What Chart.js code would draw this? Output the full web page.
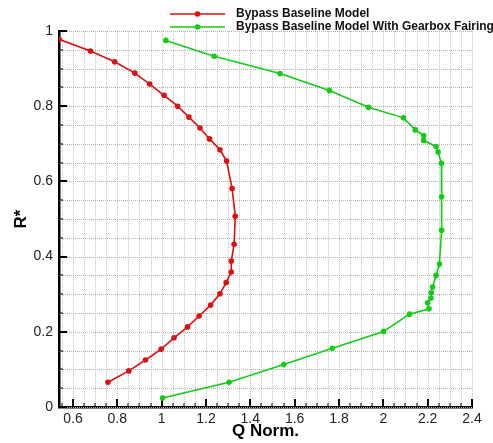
<!DOCTYPE html>
<html>
<head>
<meta charset="utf-8">
<script src="https://cdn.jsdelivr.net/npm/chart.js@4.4.1/dist/chart.umd.min.js"></script>
<style>
  html, body { margin: 0; padding: 0; background: #fff; }
  #wrap { width: 493px; height: 443px; }
</style>
</head>
<body>
<div id="wrap"><canvas id="myChart"></canvas></div>
<script>
const seriesNames = ['Bypass Baseline Model', 'Bypass Baseline Model With Gearbox Fairing'];
const seriesColors = ['#dd0f0f', '#14cc14'];

// Bypass Baseline Model
const baselineQ = [0.537, 0.679, 0.788, 0.879, 0.946, 1.011, 1.072, 1.123, 1.173, 1.216,
                   1.263, 1.293, 1.318, 1.332, 1.327, 1.314, 1.314, 1.291, 1.263, 1.221,
                   1.169, 1.117, 1.056, 0.998, 0.927, 0.852, 0.758];
const baselineR = [0.978, 0.947, 0.918, 0.888, 0.859, 0.829, 0.800, 0.771, 0.742, 0.713,
                   0.684, 0.654, 0.581, 0.507, 0.433, 0.388, 0.359, 0.331, 0.301, 0.271,
                   0.242, 0.213, 0.184, 0.154, 0.125, 0.096, 0.066];

// With Gearbox Fairing
const fairingQ = [1.019, 1.237, 1.534, 1.757, 1.933, 2.091, 2.144, 2.182, 2.182, 2.238,
                  2.247, 2.262, 2.263, 2.263, 2.253, 2.238, 2.222, 2.216, 2.215, 2.200,
                  2.206, 2.118, 2.001, 1.770, 1.551, 1.304, 1.004];
const fairingR = [0.975, 0.933, 0.887, 0.842, 0.797, 0.769, 0.737, 0.722, 0.709, 0.693,
                  0.678, 0.648, 0.559, 0.470, 0.380, 0.350, 0.319, 0.304, 0.290, 0.277,
                  0.261, 0.247, 0.201, 0.156, 0.113, 0.066, 0.024];

const xTickLabels = [0.6, 0.8, 1, 1.2, 1.4, 1.6, 1.8, 2, 2.2, 2.4];
const yTickLabels = [0, 0.2, 0.4, 0.6, 0.8, 1];
const gridStep = 0.05;

Chart.defaults.font.family = '"Liberation Sans", Arial, sans-serif';
Chart.defaults.color = '#222';

function toPoints(xs, ys) {
  return xs.map((x, i) => ({ x: x, y: ys[i] }));
}
function isLabel(list, v) {
  return list.some(t => Math.abs(t - v) < 1e-6);
}
function gridTicks(scale) {
  const ticks = [];
  const k0 = Math.ceil(scale.min / gridStep - 1e-6);
  const k1 = Math.floor(scale.max / gridStep + 1e-6);
  for (let k = k0; k <= k1; k++) {
    ticks.push({ value: Math.round(k * gridStep * 100) / 100 });
  }
  scale.ticks = ticks;
}

// dotted grid (drawn as single pixels) plus inward tick marks
const gridAndTicks = {
  id: 'gridAndTicks',
  beforeDatasetsDraw(chart) {
    const c = chart.ctx;
    const xs = chart.scales.x, ys = chart.scales.y;
    const area = chart.chartArea;
    const top = Math.round(area.top), bottom = Math.round(area.bottom);
    const left = Math.round(area.left), right = Math.round(area.right);
    c.save();
    c.fillStyle = '#c2c2c2';
    xs.ticks.forEach(t => {
      const px = Math.round(xs.getPixelForValue(t.value));
      for (let y = top; y < bottom; y += 2) c.fillRect(px, y, 1, 1);
    });
    c.fillStyle = '#b2b2b2';
    ys.ticks.forEach(t => {
      const py = Math.round(ys.getPixelForValue(t.value));
      for (let x = left; x < right; x += 2) c.fillRect(x, py, 1, 1);
    });
    c.strokeStyle = '#000';
    xs.ticks.forEach(t => {
      const major = isLabel(xTickLabels, t.value);
      const px = Math.round(xs.getPixelForValue(t.value));
      c.lineWidth = major ? 2 : 1;
      c.beginPath();
      c.moveTo(px, area.bottom);
      c.lineTo(px, area.bottom - (major ? 8 : 4));
      c.stroke();
    });
    ys.ticks.forEach(t => {
      const major = isLabel(yTickLabels, t.value);
      const py = Math.round(ys.getPixelForValue(t.value));
      c.lineWidth = major ? 2 : 1;
      c.beginPath();
      c.moveTo(area.left, py);
      c.lineTo(area.left + (major ? 8 : 4), py);
      c.stroke();
    });
    c.restore();
  }
};

// legend: line with marker, then bold text
const lineLegend = {
  id: 'lineLegend',
  afterDraw(chart) {
    const c = chart.ctx;
    c.save();
    chart.data.datasets.forEach((ds, i) => {
      const y = 14 + i * 13;
      c.strokeStyle = ds.borderColor;
      c.lineWidth = 1.5;
      c.beginPath();
      c.moveTo(170, y);
      c.lineTo(225, y);
      c.stroke();
      c.fillStyle = ds.borderColor;
      c.beginPath();
      c.arc(197.5, y, 2.8, 0, Math.PI * 2);
      c.fill();
      c.fillStyle = '#111';
      c.font = 'bold 12px "Liberation Sans", Arial, sans-serif';
      c.textBaseline = 'middle';
      c.fillText(ds.label, 236, y);
    });
    c.restore();
  }
};

const ctx = document.getElementById('myChart');
const chart = new Chart(ctx, {
  type: 'line',
  data: {
    datasets: [
      {
        label: seriesNames[0],
        data: toPoints(baselineQ, baselineR),
        borderColor: seriesColors[0],
        backgroundColor: seriesColors[0],
        borderWidth: 1.6,
        pointRadius: 2.8,
        pointBorderWidth: 0,
        tension: 0
      },
      {
        label: seriesNames[1],
        data: toPoints(fairingQ, fairingR),
        borderColor: seriesColors[1],
        backgroundColor: seriesColors[1],
        borderWidth: 1.6,
        pointRadius: 2.8,
        pointBorderWidth: 0,
        tension: 0
      }
    ]
  },
  options: {
    responsive: true,
    maintainAspectRatio: false,
    animation: false,
    events: [],
    layout: { padding: { top: 31, right: 21, left: 0, bottom: 0 } },
    plugins: {
      legend: { display: false },
      tooltip: { enabled: false }
    },
    scales: {
      x: {
        type: 'linear',
        min: 0.537,
        max: 2.4,
        afterBuildTicks: gridTicks,
        afterFit: s => { s.height = 36; },
        grid: { display: false, drawTicks: false },
        border: { display: true, color: '#000', width: 2.5 },
        ticks: {
          autoSkip: false,
          maxRotation: 0,
          padding: 4,
          font: { size: 14 },
          callback: v => isLabel(xTickLabels, v) ? String(+v.toFixed(1)) : ''
        },
        title: {
          display: true,
          text: 'Q Norm.',
          color: '#000',
          font: { size: 17, weight: 'bold' },
          padding: { top: 0, bottom: 1 }
        }
      },
      y: {
        type: 'linear',
        min: 0,
        max: 1,
        afterBuildTicks: gridTicks,
        afterFit: s => { s.width = 59; },
        grid: { display: false, drawTicks: false },
        border: { display: true, color: '#000', width: 2.5 },
        ticks: {
          autoSkip: false,
          padding: 6,
          font: { size: 14 },
          callback: v => isLabel(yTickLabels, v) ? String(+v.toFixed(1)) : ''
        },
        title: {
          display: true,
          text: 'R*',
          color: '#000',
          font: { size: 17, weight: 'bold' },
          padding: { top: 11, bottom: 0 }
        }
      }
    }
  },
  plugins: [gridAndTicks, lineLegend]
});
</script>
</body>
</html>
